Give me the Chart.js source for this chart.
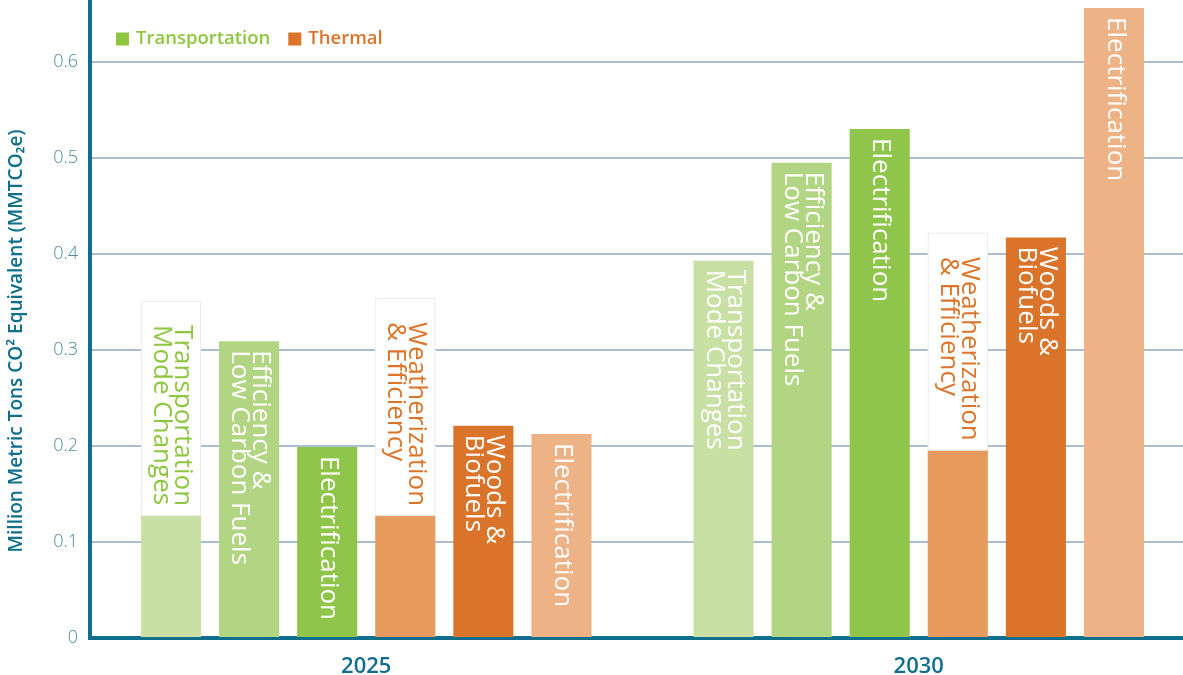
<!DOCTYPE html>
<html>
<head>
<meta charset="utf-8">
<script src="https://cdn.jsdelivr.net/npm/chart.js@4.4.1/dist/chart.umd.min.js"></script>
<style>
  html, body { margin: 0; padding: 0; background: #fff; overflow: hidden; }
  #wrap { width: 1195px; height: 675px; }
</style>
</head>
<body>
<div id="wrap"><canvas id="chart"></canvas></div>
<script>
// data
const years = ['2025', '2030'];
const barLabels = [
  'Transportation\nMode Changes',
  'Efficiency &\nLow Carbon Fuels',
  'Electrification',
  'Weatherization\n& Efficiency',
  'Woods &\nBiofuels',
  'Electrification'
];
const modeChanges = [0.128, 0.393];
const lowCarbonFuels = [0.309, 0.495];
const transElectrification = [0.199, 0.530];
const weatherization = [0.128, 0.196];
const woodsBiofuels = [0.221, 0.417];
const thermElectrification = [0.2125, 0.656];
const yTicks = [0, 0.1, 0.2, 0.3, 0.4, 0.5, 0.6];
const legendNames = ['Transportation', 'Thermal'];
const yTitle = 'Million Metric Tons CO² Equivalent (MMTCO₂e)';

const green = '#8dc63f';
const orange = '#dc7429';
const teal = '#0e6e8c';
const barColors = ['#c8e0a3', '#b1d582', '#8fc54a', '#e69a5e', '#da742b', '#edb386'];
const textColors = [green, green, green, orange, orange, orange];
const seriesData = [modeChanges, lowCarbonFuels, transElectrification, weatherization, woodsBiofuels, thermElectrification];

const labelFont = '26px "Open Sans"';

// labels rotated inside the bars, with a white box when the bar is too short
const barTextPlugin = {
  id: 'barText',
  afterDatasetsDraw(chart) {
    const ctx = chart.ctx;
    ctx.save();
    ctx.font = labelFont;
    chart.data.datasets.forEach((ds, i) => {
      const meta = chart.getDatasetMeta(i);
      const lines = barLabels[i].split('\n');
      const len = Math.max(...lines.map(l => ctx.measureText(l).width));
      meta.data.forEach(bar => {
        const top = bar.y, base = bar.base;
        let start = top + 9;
        let color = '#fff';
        if (start + len + 9 > base) {
          start = top - 9 - len;
          const boxTop = start - 24;
          ctx.fillStyle = '#fff';
          ctx.fillRect(bar.x - bar.width / 2, boxTop, bar.width, top - boxTop);
          ctx.strokeStyle = '#ececec';
          ctx.lineWidth = 1;
          ctx.strokeRect(bar.x - bar.width / 2 + 0.5, boxTop + 0.5, bar.width - 1, top - boxTop);
          color = textColors[i];
        }
        ctx.save();
        ctx.translate(bar.x, start);
        ctx.rotate(Math.PI / 2);
        ctx.fillStyle = color;
        ctx.textAlign = 'left';
        ctx.textBaseline = 'middle';
        const lh = 21;
        lines.forEach((l, k) => {
          ctx.fillText(l, 0, (k - (lines.length - 1) / 2) * lh - 1);
        });
        ctx.restore();
      });
    });
    ctx.restore();
  }
};

// legend sitting inside the plot, plus the y title (sits a bit low in the original)
const legendPlugin = {
  id: 'innerLegend',
  afterDraw(chart) {
    const ctx = chart.ctx;
    ctx.save();
    ctx.font = '600 18.5px "Open Sans"';
    ctx.textBaseline = 'middle';
    let x = 116;
    const y = 39;
    legendNames.forEach((name, k) => {
      const c = k === 0 ? green : orange;
      ctx.fillStyle = c;
      ctx.fillRect(x, y - 6.5, 13, 13);
      ctx.fillText(name, x + 20, y);
      x += 20 + ctx.measureText(name).width + 18;
    });

    ctx.translate(17, 341);
    ctx.rotate(-Math.PI / 2);
    ctx.font = '600 19px "Open Sans"';
    ctx.fillStyle = teal;
    ctx.textAlign = 'center';
    ctx.fillText(yTitle, 0, 0);
    ctx.restore();
  }
};

new Chart(document.getElementById('chart'), {
  type: 'bar',
  data: {
    labels: years,
    datasets: seriesData.map((d, i) => ({
      label: barLabels[i],
      data: d,
      backgroundColor: barColors[i],
      borderWidth: 0,
      categoryPercentage: 0.848,
      barPercentage: 0.77
    }))
  },
  options: {
    responsive: true,
    maintainAspectRatio: false,
    animation: false,
    layout: { padding: 0 },
    plugins: {
      legend: { display: false },
      tooltip: { enabled: false }
    },
    scales: {
      x: {
        grid: { display: false },
        border: { color: teal, width: 4 },
        ticks: { color: teal, font: { family: 'Open Sans', size: 22, weight: '600' }, padding: 8 },
        afterFit(scale) { scale.height = 37; }
      },
      y: {
        min: 0,
        max: 0.6635,
        afterBuildTicks(scale) { scale.ticks = yTicks.map(v => ({ value: v })); },
        grid: { color: '#a9bfd0', lineWidth: 2, drawTicks: true, tickLength: 12, tickColor: 'rgba(0,0,0,0)' },
        border: { color: teal, width: 4 },
        ticks: {
          color: '#4b8ba6',
          padding: 0,
          font: { family: 'Open Sans', size: 18, weight: '300', lineHeight: 0.1 },
          callback: v => String(v)
        },
        afterFit(scale) { scale.width = 90; }
      }
    }
  },
  plugins: [barTextPlugin, legendPlugin]
});
</script>
</body>
</html>
